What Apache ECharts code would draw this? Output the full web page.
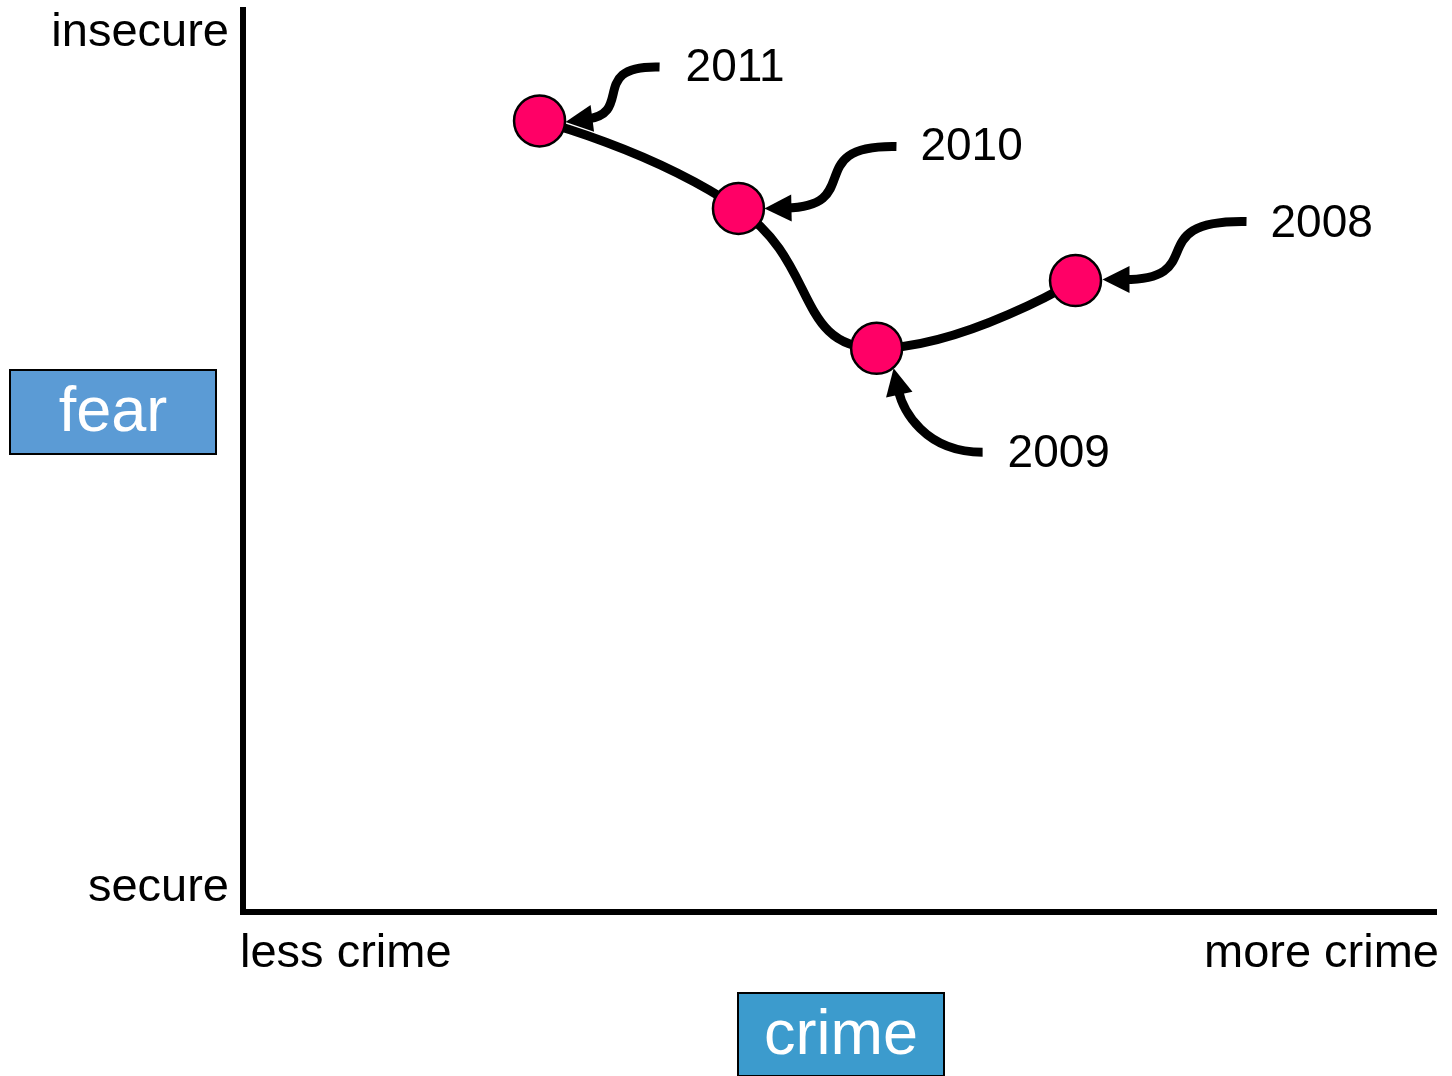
<!DOCTYPE html>
<html>
<head>
<meta charset="utf-8">
<script src="https://cdn.jsdelivr.net/npm/echarts@6/dist/echarts.min.js"></script>
<style>
html,body{margin:0;padding:0;background:#fff;}
#chart{width:1452px;height:1076px;}
</style>
</head>
<body>
<div id="chart"></div>
<script>
// ---- data ----
const years = ['2011', '2010', '2009', '2008'];
const crime = [24.9, 41.6, 53.2, 69.9];
const fear = [87.7, 78.0, 62.5, 70.0];
const xTickLabels = ['less crime', 'more crime'];
const yTickLabels = ['secure', 'insecure'];
const xAxisTitle = 'crime';
const yAxisTitle = 'fear';

// ---- annotation geometry (pixel offsets relative to each point) ----
const arrowShapes = {
  '2011': {p0: [120, -54], p1: [48, -56], p2: [95, -8], tip: [26, 1], label: [146, -53]},
  '2010': {p0: [158, -62], p1: [62, -64], p2: [128, -2], tip: [26, 0], label: [182, -61]},
  '2009': {p0: [106, 104], p1: [48, 104], p2: [26, 62], tip: [17, 20], label: [131, 106]},
  '2008': {p0: [171, -59], p1: [64, -61], p2: [136, -1], tip: [27, -1], label: [195, -56]}
};

const FONT = '"Liberation Sans", Arial, Helvetica, sans-serif';
const chart = echarts.init(document.getElementById('chart'), null, {renderer: 'canvas'});

const pts = crime.map((c, i) => [c, fear[i], i]);

function renderArrow(params, api) {
  const i = params.dataIndex;
  const c = api.coord([api.value(0), api.value(1)]);
  const s = arrowShapes[years[i]];
  const P = o => [c[0] + o[0], c[1] + o[1]];
  const p0 = P(s.p0), p1 = P(s.p1), p2 = P(s.p2), tip = P(s.tip);
  let dx = tip[0] - p2[0], dy = tip[1] - p2[1];
  const len = Math.hypot(dx, dy); dx /= len; dy /= len;
  const headL = 27, headW = 27;
  const base = [tip[0] - dx * headL, tip[1] - dy * headL];
  const end = [tip[0] - dx * headL * 0.8, tip[1] - dy * headL * 0.8];
  const nx = -dy, ny = dx;
  return {
    type: 'group',
    children: [
      {
        type: 'bezierCurve',
        shape: {x1: p0[0], y1: p0[1], cpx1: p1[0], cpy1: p1[1], cpx2: p2[0], cpy2: p2[1], x2: end[0], y2: end[1]},
        style: {stroke: '#000', lineWidth: 9, fill: null}
      },
      {
        type: 'polygon',
        shape: {points: [tip, [base[0] + nx * headW / 2, base[1] + ny * headW / 2], [base[0] - nx * headW / 2, base[1] - ny * headW / 2]]},
        style: {fill: '#000'}
      },
      {
        type: 'text',
        x: c[0] + s.label[0], y: c[1] + s.label[1],
        style: {text: years[i], fill: '#000', font: '46px ' + FONT, align: 'left', verticalAlign: 'middle'}
      }
    ]
  };
}

const option = {
  backgroundColor: '#fff',
  animation: false,
  grid: {left: 243, right: 18, top: 10, bottom: 164, containLabel: false},
  xAxis: {
    type: 'value', min: 0, max: 100, interval: 100,
    axisLine: {show: true, lineStyle: {color: '#000', width: 6, cap: 'square'}},
    axisTick: {show: false}, splitLine: {show: false},
    axisLabel: {
      margin: 19, color: '#000', fontSize: 47, fontFamily: FONT,
      alignMinLabel: 'left', alignMaxLabel: 'right', padding: [0, -5, 0, -3],
      formatter: v => v === 0 ? xTickLabels[0] : (v === 100 ? xTickLabels[1] : '')
    }
  },
  yAxis: {
    type: 'value', min: 0, max: 100, interval: 100,
    axisLine: {show: true, lineStyle: {color: '#000', width: 6, cap: 'square'}},
    axisTick: {show: false}, splitLine: {show: false},
    axisLabel: {
      margin: 14, color: '#000', fontSize: 47, fontFamily: FONT,
      verticalAlignMinLabel: 'bottom', verticalAlignMaxLabel: 'top', padding: [0, 0, 0, 0],
      formatter: v => v === 0 ? yTickLabels[0] : (v === 100 ? yTickLabels[1] : '')
    }
  },
  series: [
    {
      type: 'line',
      data: pts,
      smooth: 0.5,
      z: 3,
      lineStyle: {color: '#000', width: 9},
      symbol: 'circle',
      symbolSize: 51,
      itemStyle: {color: '#FF0066', borderColor: '#000', borderWidth: 2.5},
      emphasis: {disabled: true}
    },
    {
      type: 'custom',
      data: pts,
      clip: false,
      z: 2,
      renderItem: renderArrow
    }
  ],
  graphic: [
    {
      type: 'group', left: 9, top: 369,
      children: [
        {type: 'rect', shape: {x: 0, y: 0, width: 206, height: 84}, style: {fill: '#5B9BD5', stroke: '#000', lineWidth: 2}},
        {type: 'text', x: 103, y: 44, style: {text: yAxisTitle, fill: '#fff', font: '63px ' + FONT, align: 'center', verticalAlign: 'middle'}}
      ]
    },
    {
      type: 'group', left: 737, top: 992,
      children: [
        {type: 'rect', shape: {x: 0, y: 0, width: 206, height: 83}, style: {fill: '#3C9BCD', stroke: '#000', lineWidth: 2}},
        {type: 'text', x: 103, y: 44, style: {text: xAxisTitle, fill: '#fff', font: '63px ' + FONT, align: 'center', verticalAlign: 'middle'}}
      ]
    }
  ]
};
chart.setOption(option);
</script>
</body>
</html>
